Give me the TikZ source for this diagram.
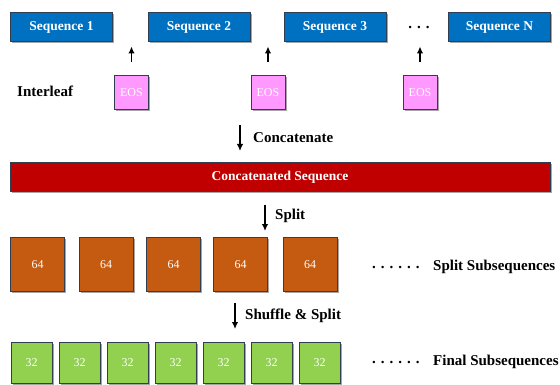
\documentclass[tikz,border=0pt]{standalone}
\usepackage{fontspec}
\setmainfont{Liberation Serif}
\newfontfamily\tnr{Liberation Serif}
\usetikzlibrary{shadows,arrows.meta}
\definecolor{seqblue}{HTML}{0070C0}
\definecolor{barred}{HTML}{C00000}
\definecolor{orangebox}{HTML}{C55A11}
\definecolor{greenbox}{HTML}{92D050}
\definecolor{pinkbox}{HTML}{FF99FF}
\definecolor{bordc}{HTML}{2F3E52}
\begin{document}
\begin{tikzpicture}[x=1pt,y=-1pt,
  box/.style={draw=bordc, line width=1pt, text=white, inner sep=0pt,
    drop shadow={shadow xshift=1.5pt,shadow yshift=-1.5pt,opacity=0.35,fill=black}},
  seqbox/.style={box, fill=seqblue, minimum width=102pt, minimum height=29pt,
    font=\tnr\bfseries\fontsize{13.5}{15}\selectfont},
  eosbox/.style={box, fill=pinkbox, minimum width=34pt, minimum height=34pt,
    font=\tnr\fontsize{12}{14}\selectfont},
  barbox/.style={box, fill=barred, minimum width=540pt, minimum height=29pt,
    font=\tnr\bfseries\fontsize{13.5}{15}\selectfont},
  bigbox/.style={box, fill=orangebox, minimum width=54pt, minimum height=54pt,
    font=\tnr\fontsize{12}{14}\selectfont},
  smallbox/.style={box, fill=greenbox, minimum width=41pt, minimum height=41pt,
    font=\tnr\fontsize{12}{14}\selectfont},
  lbl/.style={font=\tnr\bfseries\fontsize{15}{17}\selectfont, inner sep=0pt},
  arr/.style={line width=1.8pt, -{Latex[length=7pt,width=6.5pt]}}
]
\useasboundingbox (0,0) rectangle (560,385);

% top sequences
\node[seqbox] (s1) at (61.5,27.5) {Sequence 1};
\node[seqbox] (s2) at (199,27.5) {Sequence 2};
\node[seqbox] (s3) at (335,27.5) {Sequence 3};
\node[seqbox] (sn) at (499.5,27.5) {Sequence N};
\node[lbl] (dots0) at (419,27) {. . .};

% EOS
\node[lbl, anchor=west] (inter) at (17,91) {Interleaf};
\node[eosbox] (e1) at (131.5,92.5) {EOS};
\node[eosbox] (e2) at (268,92.5) {EOS};
\node[eosbox] (e3) at (420,92.5) {EOS};
\foreach \e in {e1,e2,e3}
  \draw[arr] ([yshift=12.5pt]\e.north) -- ++(0,-16);

% concatenate
\coordinate (c1) at (240,125);
\draw[arr] (c1) -- ++(0,26);
\node[lbl, anchor=west] (tc) at (253,138) {Concatenate};
\node[barbox] (bar) at (280,177.5) {Concatenated Sequence};

% split
\coordinate (c2) at (265,205);
\draw[arr] (c2) -- ++(0,26);
\node[lbl, anchor=west] (ts) at (275,216) {Split};
\foreach \x/\n in {37.5/1,106/2,173.5/3,240.5/4,310/5}
  \node[bigbox] (b\n) at (\x,264.5) {64};
\node[lbl, anchor=west] (d1) at (372,267) {. . . . . .};
\node[lbl, anchor=west] (tss) at (433,267) {Split Subsequences};

% shuffle & split
\coordinate (c3) at (235,303);
\draw[arr] (c3) -- ++(0,26);
\node[lbl, anchor=west] (tsh) at (245,316) {Shuffle \& Split};
\foreach \k in {0,...,6}
  \node[smallbox] (g\k) at ({31.5+48*\k},362.5) {32};
\node[lbl, anchor=west] (d2) at (372,362) {. . . . . .};
\node[lbl, anchor=west] (tfs) at (433,362) {Final Subsequences};
\end{tikzpicture}
\end{document}
